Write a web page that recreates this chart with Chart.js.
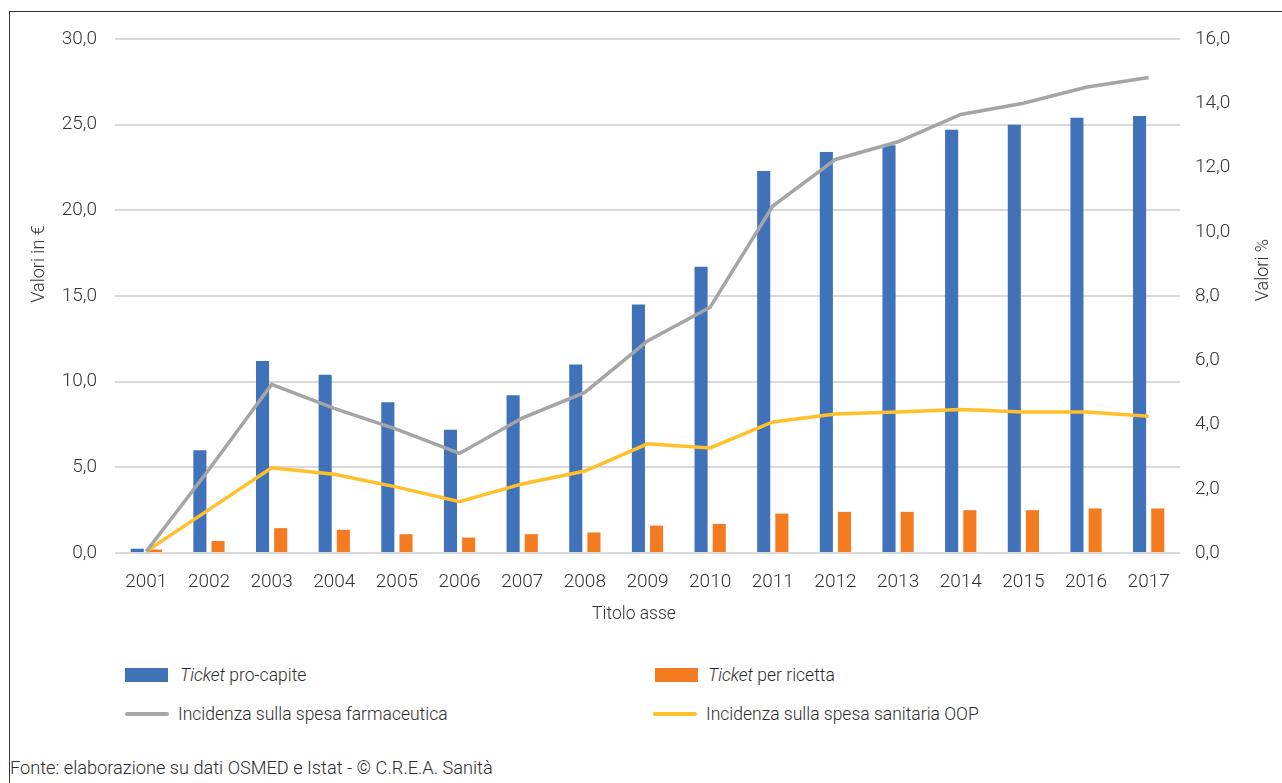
<!DOCTYPE html>
<html>
<head>
<meta charset="utf-8">
<script src="https://cdn.jsdelivr.net/npm/chart.js@4"></script>
<style>
  html, body { margin: 0; padding: 0; background: #fff; }
  body { width: 1282px; height: 783px; position: relative; overflow: hidden;
         font-family: Roboto, "Liberation Sans", sans-serif; color: #333; }
  #frame { position: absolute; left: 9px; top: 11px; width: 1300px; height: 800px;
           border: 1.5px solid #333; box-sizing: border-box; }
  #wrap { position: absolute; left: 0; top: 0; width: 1282px; height: 640px; }
  .lg { position: absolute; font-size: 17.5px; line-height: 20px; white-space: nowrap; font-weight: 300; color: #2b2b2b; }
  .sw { position: absolute; }
  #fonte { position: absolute; left: 10px; top: 757px; font-size: 18.2px; font-weight: 300; color: #2b2b2b; }
</style>
</head>
<body>
<div id="frame"></div>
<div id="wrap"><canvas id="chart" width="1282" height="640"></canvas></div>
<div id="legend"></div>
<div id="fonte">Fonte: elaborazione su dati OSMED e Istat - © C.R.E.A. Sanità</div>
<script>
var years = ['2001','2002','2003','2004','2005','2006','2007','2008','2009','2010','2011','2012','2013','2014','2015','2016','2017'];
// valori in euro (asse sinistro)
var ticketProCapite = [0.25, 6.0, 11.2, 10.4, 8.8, 7.2, 9.2, 11.0, 14.5, 16.7, 22.3, 23.4, 23.8, 24.7, 25.0, 25.4, 25.5];
var ticketPerRicetta = [0.2, 0.7, 1.45, 1.35, 1.1, 0.9, 1.1, 1.2, 1.6, 1.7, 2.3, 2.4, 2.4, 2.5, 2.5, 2.6, 2.6];
// valori % (asse destro)
var incFarmaceutica = [0.05, 2.6, 5.25, 4.5, 3.85, 3.1, 4.2, 5.0, 6.6, 7.65, 10.8, 12.25, 12.8, 13.65, 14.0, 14.5, 14.8];
var incOOP = [0.05, 1.35, 2.65, 2.45, 2.05, 1.6, 2.15, 2.55, 3.4, 3.27, 4.08, 4.33, 4.39, 4.47, 4.39, 4.39, 4.26];

var fmt = function (v) { return v.toFixed(1).replace('.', ','); };
var family = 'Roboto, "Liberation Sans", sans-serif';
var font = { family: family, size: 19, weight: 300 };

// titoli degli assi, disegnati a mano come nell'originale (non centrati sull'area)
var axisTitles = {
    id: 'axisTitles',
    afterDraw: function (c) {
        var g = c.ctx;
        var put = function (txt, x, y, rot, size) {
            g.save();
            g.translate(x, y);
            g.rotate(rot);
            g.font = '300 ' + size + 'px ' + family;
            g.fillStyle = '#333';
            g.textAlign = 'center';
            g.textBaseline = 'middle';
            g.fillText(txt, 0, 0);
            g.restore();
        };
        put('Valori in €', 39, 264, -Math.PI / 2, 18);
        put('Valori %', 1263, 270, -Math.PI / 2, 18);
        put('Titolo asse', 634, 615, 0, 17.5);
    }
};

var ctx = document.getElementById('chart').getContext('2d');
var chart = new Chart(ctx, {
    type: 'bar',
    data: {
        labels: years,
        datasets: [
            { label: 'Ticket pro-capite', data: ticketProCapite, backgroundColor: '#4072B9', yAxisID: 'y', order: 1 },
            { label: 'Ticket per ricetta', data: ticketPerRicetta, backgroundColor: '#F47B20', yAxisID: 'y', order: 1 },
            { type: 'line', label: 'Incidenza sulla spesa farmaceutica', data: incFarmaceutica, borderColor: '#A5A5A5',
              borderWidth: 3.5, pointRadius: 0, tension: 0, yAxisID: 'y1', order: 0 },
            { type: 'line', label: 'Incidenza sulla spesa sanitaria OOP', data: incOOP, borderColor: '#FFC02A',
              borderWidth: 3.5, pointRadius: 0, tension: 0, yAxisID: 'y1', order: 0 }
        ]
    },
    plugins: [axisTitles],
    options: {
        responsive: false,
        animation: false,
        categoryPercentage: 0.58,
        barPercentage: 0.72,
        layout: { padding: { left: 0, right: 0, top: 39, bottom: 0 } },
        plugins: { legend: { display: false }, tooltip: { enabled: false } },
        scales: {
            x: {
                grid: { display: false },
                border: { display: false },
                ticks: { color: '#333', font: font, padding: 10, maxRotation: 0 },
                afterFit: function (s) { s.height = 87; }
            },
            y: {
                position: 'left', min: 0, max: 30,
                grid: { color: '#D9D9D9', lineWidth: 2, drawTicks: false },
                border: { display: false },
                ticks: { stepSize: 5, color: '#333', font: font, padding: 18, callback: fmt },
                afterFit: function (s) { s.width = 115; }
            },
            y1: {
                position: 'right', min: 0, max: 16,
                grid: { display: false, drawTicks: false },
                border: { display: false },
                ticks: { stepSize: 2, color: '#333', font: font, padding: 15, callback: fmt },
                afterFit: function (s) { s.width = 102; }
            }
        }
    }
});

// legenda in HTML (parola "Ticket" in corsivo)
var legendPos = [
    { sx: 125, sy: 668, tx: 180, ty: 665 },
    { sx: 655, sy: 668, tx: 708, ty: 665 },
    { sx: 125, sy: 712, tx: 178, ty: 704 },
    { sx: 653, sy: 712, tx: 706, ty: 704 }
];
var lg = document.getElementById('legend');
chart.data.datasets.forEach(function (ds, i) {
    var p = legendPos[i];
    var sw = document.createElement('div');
    sw.className = 'sw';
    if (ds.type === 'line') {
        sw.style.cssText = 'left:' + p.sx + 'px;top:' + p.sy + 'px;width:44px;height:4px;border-radius:2px;background:' + ds.borderColor;
    } else {
        sw.style.cssText = 'left:' + p.sx + 'px;top:' + p.sy + 'px;width:43px;height:14px;background:' + ds.backgroundColor;
    }
    lg.appendChild(sw);
    var t = document.createElement('div');
    t.className = 'lg';
    t.style.left = p.tx + 'px';
    t.style.top = p.ty + 'px';
    if (ds.label.indexOf('Ticket') === 0) {
        t.innerHTML = '<i>Ticket</i>' + ds.label.slice(6);
    } else {
        t.textContent = ds.label;
    }
    lg.appendChild(t);
});
</script>
</body>
</html>
